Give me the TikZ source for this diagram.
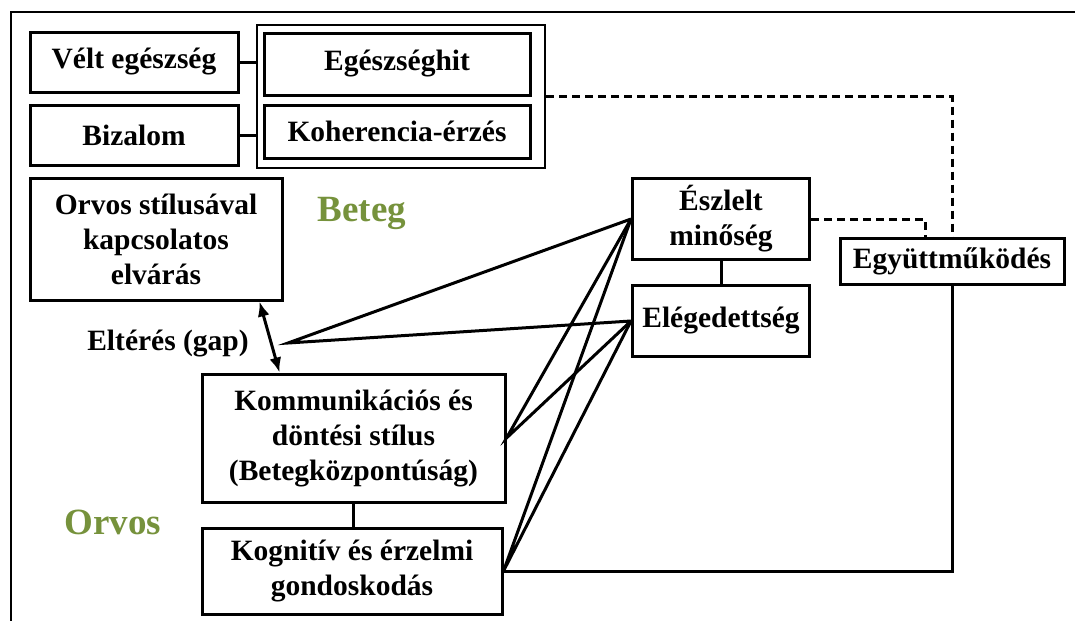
\documentclass[tikz,border=0pt]{standalone}
\usepackage{fontspec}
\setmainfont{Liberation Serif}
\usetikzlibrary{arrows.meta}
\definecolor{olivazold}{RGB}{118,146,60}

\tikzset{
  doboz/.style={draw, line width=3pt, align=center, inner sep=0pt,
    font=\fontsize{29.5}{35}\selectfont\bfseries},
  kapcs/.style={line width=3pt},
  szagg/.style={line width=3pt, dash pattern=on 8pt off 5pt},
  szerep/.style={font=\fontsize{37}{40}\selectfont\bfseries, text=olivazold}
}

\begin{document}
\begin{tikzpicture}[x=1pt, y=-1pt]
\useasboundingbox (0,0) rectangle (1075,621);

% outer frame (only top and left show)
\draw[line width=1.6pt] (1075,12) -- (11,12) -- (11,621);

% patient side
\node[doboz, minimum width=208pt, minimum height=60pt] (velt) at (134,62) {V\'elt eg\'eszs\'eg};
\node[doboz, minimum width=208pt, minimum height=60pt] (bizalom) at (134,135) {Bizalom};
\node[draw, line width=2pt, minimum width=288pt, minimum height=143pt] (hitcsoport) at (401,96.5) {};
\node[doboz, minimum width=266pt, minimum height=62pt] (egeszseghit) at (397,64) {Eg\'eszs\'eghit};
\node[doboz, minimum width=266pt, minimum height=53pt] (koherencia) at (397,131.5) {Koherencia-\'erz\'es};
\node[doboz, minimum width=252pt, minimum height=122pt] (elvaras) at (156,239) {Orvos st\'ilus\'aval\\kapcsolatos\\elv\'ar\'as};
\node[szerep] (beteg) at (362,213) {Beteg};

% gap
\node[font=\fontsize{29.5}{35}\selectfont\bfseries] (elteres) at (168,344) {Elt\'er\'es (gap)};
\coordinate (gap) at (288,343);

% doctor side
\node[doboz, minimum width=303pt, minimum height=128pt] (kommunikacio) at (353.5,438) {Kommunik\'aci\'os \'es\\d\"ont\'esi st\'ilus\\(Betegk\"ozpont\'us\'ag)};
\node[doboz, minimum width=300pt, minimum height=86pt] (kognitiv) at (352,571) {Kognit\'iv \'es \'erzelmi\\gondoskod\'as};
\node[szerep] (orvos) at (113,522) {Orvos};

% outcomes
\node[doboz, minimum width=177pt, minimum height=81pt] (eszlelt) at (721,219) {\'Eszlelt\\min\H{o}s\'eg};
\node[doboz, minimum width=177pt, minimum height=71pt] (elegedettseg) at (721,321) {El\'egedetts\'eg};
\node[doboz, minimum width=224pt, minimum height=46pt] (egyuttmukodes) at (952,261) {Egy\"uttm\H{u}k\"od\'es};

% connectors
\draw[kapcs] (velt.east) -- (velt.east -| hitcsoport.west);
\draw[kapcs] (bizalom.east) -- (bizalom.east -| hitcsoport.west);
\draw[kapcs] (kommunikacio.south) -- (kommunikacio.south |- kognitiv.north);
\draw[kapcs] (eszlelt) -- (elegedettseg);
\draw[kapcs, {Latex[length=15pt,width=12pt]}-{Latex[length=15pt,width=12pt]}]
  ([xshift=-24pt]elvaras.south east) -- ([xshift=79pt]kommunikacio.north west);

\draw[kapcs] (eszlelt.west) -- (gap) -- (elegedettseg.west);
\draw[kapcs] (eszlelt.west) -- (kommunikacio.east) -- (elegedettseg.west);
\draw[kapcs] (eszlelt.west) -- (kognitiv.east) -- (elegedettseg.west);
\draw[kapcs] (kognitiv.east) -| (egyuttmukodes.south);

\draw[szagg] (hitcsoport.east) -| (egyuttmukodes.north);
\draw[szagg] (eszlelt.east) -| ([xshift=-27pt]egyuttmukodes.north);
\end{tikzpicture}
\end{document}
